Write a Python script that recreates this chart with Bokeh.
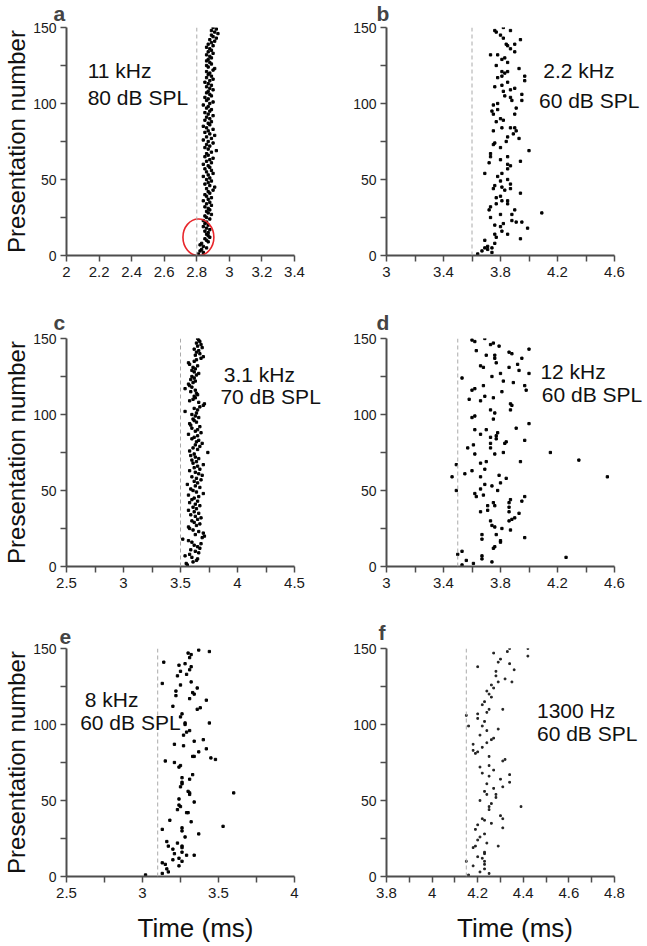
from bokeh.plotting import figure
from bokeh.layouts import column, row
from bokeh.models import Range1d, FixedTicker, Span, Label
from bokeh.embed import file_html
from bokeh.resources import INLINE

FONT = "Liberation Sans"

# ---- panel a: 11 kHz, 80 dB SPL (one spike per presentation) ----
a_x = [2.81, 2.84, 2.82, 2.83, 2.86, 2.84, 2.82, 2.83, 2.87, 2.86,
       2.85, 2.88, 2.87, 2.86, 2.87, 2.85, 2.88, 2.86, 2.84, 2.87,
       2.85, 2.86, 2.84, 2.88, 2.86, 2.85, 2.89, 2.87, 2.86, 2.88,
       2.87, 2.85, 2.89, 2.86, 2.88, 2.84, 2.87, 2.89, 2.86, 2.85,
       2.88, 2.87, 2.90, 2.86, 2.91, 2.88, 2.85, 2.87, 2.89, 2.86,
       2.88, 2.84, 2.87, 2.90, 2.86, 2.89, 2.85, 2.88, 2.87, 2.84,
       2.89, 2.86, 2.88, 2.90, 2.85, 2.87, 2.86, 2.89, 2.92, 2.87,
       2.85, 2.88, 2.86, 2.90, 2.87, 2.84, 2.89, 2.86, 2.91, 2.88,
       2.85, 2.87, 2.90, 2.86, 2.84, 2.88, 2.87, 2.89, 2.85, 2.88,
       2.86, 2.90, 2.87, 2.85, 2.88, 2.89, 2.86, 2.87, 2.84, 2.88,
       2.90, 2.86, 2.87, 2.85, 2.89, 2.88, 2.86, 2.87, 2.90, 2.88,
       2.86, 2.89, 2.87, 2.85, 2.88, 2.90, 2.86, 2.89, 2.87, 2.88,
       2.86, 2.90, 2.91, 2.87, 2.86, 2.89, 2.88, 2.86, 2.87, 2.89,
       2.88, 2.86, 2.90, 2.87, 2.89, 2.88, 2.86, 2.90, 2.87, 2.89,
       2.91, 2.88, 2.92, 2.90, 2.89, 2.93, 2.91, 2.89, 2.92, 2.90]
a_y = list(range(1, 151))

# ---- panel b: 2.2 kHz, 60 dB SPL ----
b_x = [3.64, 3.74, 3.67, 3.71, 3.69, 3.74, 3.71, 3.76, 3.69, 3.94,
       3.77, 3.76, 3.85, 3.81, 3.99, 3.80, 3.76, 3.82, 3.91, 3.95,
       3.88, 3.73, 3.80, 3.88, 4.09, 3.72, 3.90, 3.73, 3.85, 3.77,
       3.81, 3.85, 3.77, 3.80, 3.94, 3.83, 3.75, 3.87, 3.81, 3.76,
       3.87, 3.80, 3.85, 3.78, 3.81, 3.69, 3.85, 3.87, 3.85, 3.72,
       3.94, 3.80, 3.73, 3.85, 3.73, 4.00, 3.80, 3.75, 3.76, 3.84,
       3.93, 3.85, 3.89, 3.75, 3.91, 3.90, 3.87, 3.81, 3.77, 3.82,
       3.80, 3.90, 3.75, 3.74, 3.78, 3.91, 3.75, 3.78, 3.95, 3.88,
       3.87, 3.83, 3.95, 3.82, 3.87, 3.90, 3.76, 3.81, 3.85, 3.97,
       3.78, 3.97, 3.81, 3.83, 3.85, 3.81, 3.93, 3.77, 3.85, 3.81,
       3.83, 3.73, 3.78, 3.90, 3.87, 3.85, 3.84, 3.90, 3.94, 3.82,
       3.80, 3.77, 3.87, 3.76, 3.82]
b_y = [1, 2, 3, 4, 5, 5, 6, 8, 10, 11,
       12, 14, 14, 16, 18, 19, 20, 21, 22, 22,
       23, 25, 27, 27, 28, 30, 30, 32, 34, 34,
       36, 36, 38, 39, 41, 43, 44, 44, 45, 46,
       47, 49, 50, 52, 54, 54, 57, 59, 60, 61,
       62, 63, 65, 65, 67, 69, 71, 73, 74, 75,
       77, 78, 80, 82, 82, 84, 84, 84, 88, 89,
       90, 93, 93, 95, 96, 97, 99, 100, 102, 102,
       104, 105, 106, 108, 109, 110, 111, 112, 114, 115,
       117, 118, 118, 120, 121, 121, 123, 125, 127, 129,
       130, 132, 132, 134, 136, 138, 139, 139, 142, 143,
       145, 147, 148, 148, 150]

# ---- panel c: 3.1 kHz, 70 dB SPL (one spike per presentation) ----
c_x = [3.56, 3.55, 3.61, 3.64, 3.65, 3.60, 3.54, 3.58, 3.66, 3.63,
       3.59, 3.67, 3.65, 3.62, 3.68, 3.60, 3.57, 3.52, 3.69, 3.71,
       3.63, 3.70, 3.66, 3.61, 3.58, 3.57, 3.64, 3.67, 3.62, 3.60,
       3.65, 3.68, 3.63, 3.59, 3.66, 3.62, 3.57, 3.64, 3.61, 3.67,
       3.63, 3.58, 3.65, 3.60, 3.62, 3.66, 3.57, 3.70, 3.64, 3.61,
       3.59, 3.67, 3.63, 3.56, 3.65, 3.62, 3.68, 3.64, 3.60, 3.69,
       3.66, 3.63, 3.58, 3.67, 3.62, 3.65, 3.70, 3.61, 3.64, 3.60,
       3.66, 3.63, 3.59, 3.62, 3.74, 3.58, 3.65, 3.61, 3.67, 3.63,
       3.69, 3.64, 3.66, 3.60, 3.62, 3.65, 3.57, 3.68, 3.63, 3.65,
       3.60, 3.67, 3.59, 3.58, 3.64, 3.62, 3.61, 3.66, 3.63, 3.60,
       3.64, 3.54, 3.65, 3.62, 3.67, 3.70, 3.71, 3.66, 3.58, 3.61,
       3.63, 3.62, 3.65, 3.64, 3.59, 3.63, 3.54, 3.60, 3.58, 3.57,
       3.61, 3.63, 3.59, 3.62, 3.60, 3.64, 3.66, 3.62, 3.60, 3.63,
       3.61, 3.65, 3.58, 3.57, 3.62, 3.64, 3.68, 3.70, 3.63, 3.67,
       3.64, 3.66, 3.62, 3.69, 3.65, 3.68, 3.64, 3.67, 3.66, 3.65]
c_y = list(range(1, 151))

# ---- panel d: 12 kHz, 60 dB SPL ----
d_x = [3.53, 3.61, 3.74, 3.56, 3.67, 4.26, 3.67, 3.50, 3.53, 3.75,
       3.76, 3.80, 3.80, 3.67, 3.97, 3.67, 3.77, 3.87, 3.81, 3.76,
       3.74, 3.73, 3.86, 3.88, 3.90, 3.93, 3.86, 3.66, 3.71, 3.86,
       3.71, 3.76, 3.75, 3.86, 3.95, 3.87, 3.63, 3.97, 3.68, 3.62,
       3.49, 3.78, 3.66, 3.74, 3.69, 3.80, 3.84, 3.46, 3.66, 4.55,
       3.79, 3.55, 3.60, 3.69, 3.49, 3.66, 3.70, 3.94, 4.35, 3.62,
       3.76, 3.82, 4.15, 3.57, 3.73, 3.61, 3.73, 3.83, 3.97, 3.73,
       3.77, 3.66, 3.62, 3.70, 3.91, 4.00, 3.75, 3.60, 3.62, 3.76,
       3.73, 3.87, 3.88, 3.87, 3.66, 3.58, 3.75, 3.69, 3.81, 3.60,
       3.98, 3.62, 3.68, 3.97, 3.82, 3.89, 3.53, 3.74, 3.80, 4.00,
       3.93, 3.68, 3.86, 3.66, 3.92, 3.77, 3.76, 3.95, 3.70, 3.76,
       3.88, 3.86, 3.63, 4.00, 3.79, 3.73, 3.75, 3.62, 3.60, 3.69,
       3.77, 3.78, 3.84]
d_y = [1, 2, 3, 4, 5, 6, 7, 8, 10, 12,
       13, 16, 17, 18, 19, 21, 21, 24, 25, 26,
       27, 30, 30, 31, 32, 35, 36, 36, 37, 39,
       40, 40, 42, 42, 43, 44, 46, 46, 47, 48,
       50, 50, 51, 53, 54, 55, 58, 59, 59, 59,
       60, 61, 63, 64, 67, 68, 69, 69, 70, 74,
       74, 75, 75, 78, 78, 80, 81, 81, 83, 85,
       86, 87, 90, 90, 91, 94, 97, 98, 99, 101,
       103, 103, 106, 107, 109, 110, 111, 112, 115, 116,
       116, 117, 119, 119, 122, 121, 124, 125, 127, 127,
       129, 131, 131, 132, 133, 134, 137, 137, 139, 139,
       140, 141, 142, 143, 145, 146, 147, 148, 149, 150,
       84, 88, 82]

# ---- panel e: 8 kHz, 60 dB SPL ----
e_x = [3.02, 3.13, 3.17, 3.16, 3.24, 3.15, 3.13, 3.26, 3.20, 3.24,
       3.29, 3.34, 3.21, 3.26, 3.20, 3.26, 3.17, 3.26, 3.23, 3.16,
       3.28, 3.37, 3.26, 3.13, 3.26, 3.53, 3.32, 3.18, 3.29, 3.30,
       3.23, 3.25, 3.24, 3.34, 3.24, 3.31, 3.31, 3.60, 3.30, 3.25,
       3.26, 3.26, 3.31, 3.26, 3.33, 3.24, 3.25, 3.21, 3.15, 3.48,
       3.45, 3.33, 3.34, 3.37, 3.42, 3.27, 3.21, 3.34, 3.40, 3.27,
       3.29, 3.31, 3.28, 3.44, 3.28, 3.25, 3.26, 3.36, 3.20, 3.38,
       3.42, 3.31, 3.22, 3.34, 3.33, 3.22, 3.36, 3.25, 3.13, 3.32,
       3.23, 3.29, 3.25, 3.31, 3.32, 3.24, 3.28, 3.14, 3.31, 3.32,
       3.30, 3.44, 3.37]
e_y = [1, 2, 3, 5, 7, 8, 9, 10, 11, 12,
       14, 14, 15, 16, 18, 19, 20, 20, 22, 23,
       26, 28, 30, 31, 32, 33, 36, 37, 42, 42,
       44, 46, 47, 49, 51, 54, 55, 55, 56, 59,
       61, 62, 64, 65, 67, 72, 73, 75, 76, 77,
       78, 79, 79, 82, 84, 86, 87, 89, 90, 93,
       95, 96, 100, 101, 101, 105, 107, 110, 112, 111,
       116, 117, 119, 120, 121, 122, 124, 126, 127, 128,
       132, 133, 135, 136, 138, 139, 140, 141, 144, 146,
       147, 148, 149]

# ---- panel f: 1300 Hz, 60 dB SPL ----
f_x = [4.16, 4.25, 4.21, 4.23, 4.18, 4.23, 4.15, 4.23, 4.20, 4.23,
       4.23, 4.18, 4.19, 4.29, 4.20, 4.21, 4.23, 4.19, 4.31, 4.20,
       4.23, 4.31, 4.22, 4.30, 4.25, 4.25, 4.39, 4.26, 4.21, 4.28,
       4.24, 4.27, 4.31, 4.24, 4.34, 4.25, 4.34, 4.22, 4.21, 4.25,
       4.31, 4.32, 4.25, 4.19, 4.20, 4.18, 4.18, 4.24, 4.27, 4.21,
       4.24, 4.29, 4.22, 4.16, 4.23, 4.15, 4.20, 4.24, 4.25, 4.31,
       4.22, 4.26, 4.25, 4.24, 4.26, 4.29, 4.35, 4.32, 4.28, 4.28,
       4.36, 4.20, 4.34, 4.29, 4.42, 4.27, 4.33, 4.34, 4.42, 4.22,
       4.24, 4.26, 4.28, 4.23, 4.30, 4.27, 4.22, 4.26, 4.20, 4.23,
       4.27, 4.30]
f_y = [1, 2, 3, 5, 7, 8, 10, 10, 13, 15,
       16, 19, 20, 20, 24, 26, 28, 31, 32, 34,
       37, 38, 38, 40, 44, 46, 46, 48, 50, 54,
       54, 58, 59, 61, 62, 66, 67, 68, 72, 73,
       76, 77, 79, 81, 82, 83, 87, 88, 91, 93,
       96, 97, 99, 99, 102, 106, 107, 108, 110, 110,
       113, 118, 120, 122, 126, 128, 128, 130, 132, 135,
       136, 138, 140, 141, 145, 147, 148, 150, 150, 12,
       22, 35, 52, 56, 64, 70, 85, 90, 104, 115,
       124, 143]

# stimulus onset (dashed lines), ms
onsets = [2.8, 3.6, 3.5, 3.5, 3.1, 4.15]
stimuli = [("11 kHz", "80 dB SPL"), ("2.2 kHz", "60 dB SPL"),
           ("3.1 kHz", "70 dB SPL"), ("12 kHz", "60 dB SPL"),
           ("8 kHz", "60 dB SPL"), ("1300 Hz", "60 dB SPL")]

# axes
x_ranges = [(2, 3.4), (3, 4.6), (2.5, 4.5), (3, 4.6), (2.5, 4), (3.8, 4.8)]
x_major = [[2, 2.2, 2.4, 2.6, 2.8, 3, 3.2, 3.4],
           [3, 3.4, 3.8, 4.2, 4.6],
           [2.5, 3, 3.5, 4, 4.5],
           [3, 3.4, 3.8, 4.2, 4.6],
           [2.5, 3, 3.5, 4],
           [3.8, 4, 4.2, 4.4, 4.6, 4.8]]
x_labels = [["2", "2.2", "2.4", "2.6", "2.8", "3", "3.2", "3.4"],
            ["3", "3.4", "3.8", "4.2", "4.6"],
            ["2.5", "3", "3.5", "4", "4.5"],
            ["3", "3.4", "3.8", "4.2", "4.6"],
            ["2.5", "3", "3.5", "4"],
            ["3.8", "4", "4.2", "4.4", "4.6", "4.8"]]
x_minor = [[], [3.2, 3.6, 4.0, 4.4], [2.75, 3.25, 3.75, 4.25],
           [3.2, 3.6, 4.0, 4.4], [2.75, 3.25, 3.75],
           [3.9, 4.1, 4.3, 4.5, 4.7]]
y_major = [0, 50, 100, 150]
y_minor = [25, 75, 125]

# circled early spikes in panel a
ring_x, ring_y, ring_w, ring_h = 2.81, 12, 0.19, 24

AXIS_PX = 228  # drawn length of each axis


def panel(i, letter, xs, ys, letter_off, text_xy, borders, extra,
          ylabel=False, xlabel=False, dot=2.3, dot_color="black"):
    left, right, top, bottom, standoff = borders
    x0, x1 = x_ranges[i]
    # the frame runs on past the axis end so that the texts are not cut
    x_end = x1 + (x1 - x0) * extra / AXIS_PX
    p = figure(frame_width=AXIS_PX + extra, frame_height=AXIS_PX,
               x_range=Range1d(x0, x_end), y_range=Range1d(0, 150),
               output_backend="svg", toolbar_location=None,
               min_border_left=left, min_border_right=right,
               min_border_top=top, min_border_bottom=bottom)
    p.outline_line_color = None
    p.grid.visible = False

    p.title.text = letter
    p.title.text_font = FONT
    p.title.text_font_size = "21px"
    p.title.text_font_style = "bold"
    p.title.align = "left"
    p.title.offset = letter_off
    p.title.vertical_align = "top"
    p.title.standoff = standoff

    p.add_layout(Span(location=onsets[i], dimension="height",
                      line_color="#aaaaaa", line_dash="4 3", line_width=1))
    p.scatter(xs, ys, marker="square", size=dot, color=dot_color)

    p.xaxis.bounds = (x0, x1)
    p.xaxis.ticker = FixedTicker(ticks=x_major[i], minor_ticks=x_minor[i])
    p.xaxis.major_label_overrides = dict(zip(x_major[i], x_labels[i]))
    p.yaxis.ticker = FixedTicker(ticks=y_major, minor_ticks=y_minor)
    for ax in (p.xaxis[0], p.yaxis[0]):
        ax.axis_line_color = "#4d4d4d"
        ax.axis_line_width = 2
        ax.major_tick_line_color = "#4d4d4d"
        ax.minor_tick_line_color = "#4d4d4d"
        ax.major_tick_line_width = 1.5
        ax.minor_tick_line_width = 1.5
        ax.major_tick_in = 0
        ax.major_tick_out = 6
        ax.minor_tick_in = 0
        ax.minor_tick_out = 6
        ax.major_label_text_font = FONT
        ax.major_label_text_color = "#1a1a1a"
        ax.axis_label_text_font = FONT
        ax.axis_label_text_font_style = "normal"
        ax.axis_label_text_color = "#111111"
    p.xaxis.major_label_text_font_size = "15px"
    p.yaxis.major_label_text_font_size = "14px"
    p.xaxis.major_label_standoff = 5
    p.yaxis.major_label_standoff = 4

    if ylabel:
        p.yaxis.axis_label = "Presentation number"
        p.yaxis.axis_label_text_font_size = "24px"
        p.yaxis.axis_label_standoff = 0
    if xlabel:
        p.xaxis.axis_label = "Time (ms)"
        p.xaxis.axis_label_text_font_size = "26px"
        p.xaxis.axis_label_standoff = 12

    (tx1, ty1), (tx2, ty2) = text_xy
    for tx, ty, t in ((tx1, ty1, stimuli[i][0]), (tx2, ty2, stimuli[i][1])):
        p.add_layout(Label(x=tx, y=ty, text=t, text_font=FONT,
                           text_font_size="21px", text_color="#111111",
                           text_align="left", text_baseline="middle"))
    return p


pa = panel(0, "a", a_x, a_y, -13, ((2.13, 122), (2.13, 104)),
           (60, 2, 27, 50, 1), 30, ylabel=True)
pa.ellipse(x=ring_x, y=ring_y, width=ring_w, height=ring_h,
           fill_color=None, line_color="#e8262b", line_width=1.6)
pb = panel(1, "b", b_x, b_y, -10, ((4.10, 122), (4.07, 102)),
           (60, 0, 27, 50, 1), 29)
pc = panel(2, "c", c_x, c_y, -13, ((3.88, 126), (3.85, 112)),
           (60, 2, 33, 50, 6), 30, ylabel=True)
pd = panel(3, "d", d_x, d_y, -10, ((4.08, 128), (4.09, 113)),
           (60, 0, 33, 50, 6), 29)
pe = panel(4, "e", e_x, e_y, -7, ((2.62, 116.5), (2.59, 101)),
           (60, 2, 32, 60, 6), 30, ylabel=True, xlabel=True)
pf = panel(5, "f", f_x, f_y, -8, ((4.46, 109.5), (4.46, 94)),
           (60, 0, 32, 60, 6), 29, xlabel=True, dot=1.7, dot_color="#222222")

p = column(row(pa, pb), row(pc, pd), row(pe, pf))

open("out.html", "w").write(file_html(p, INLINE))
